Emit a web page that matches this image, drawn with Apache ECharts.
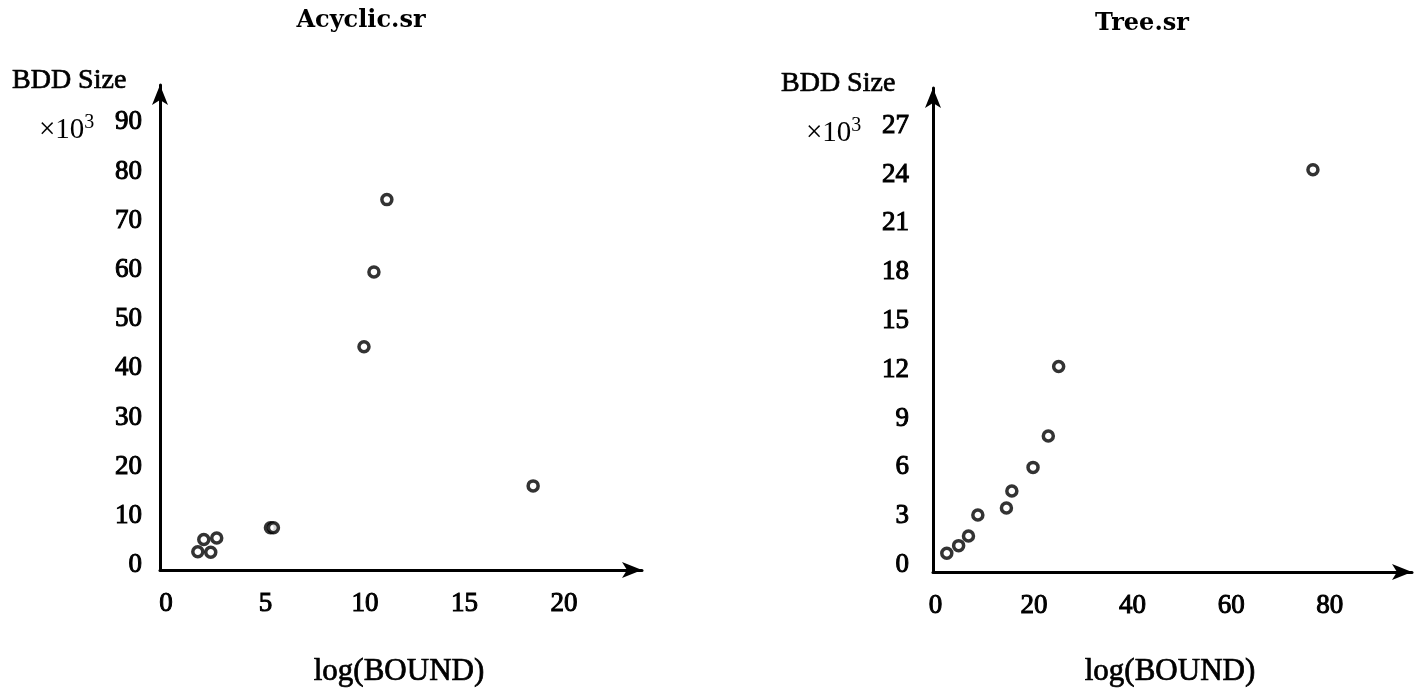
<!DOCTYPE html>
<html>
<head>
<meta charset="utf-8">
<script src="https://cdn.jsdelivr.net/npm/echarts@6/dist/echarts.min.js"></script>
<style>html,body{margin:0;padding:0;background:#fff}#c{width:1425px;height:693px}</style>
</head>
<body>
<div id="c"></div>
<script>
// Acyclic.sr data (log(BOUND), BDD size x10^3)
const acyclicX = [1.6, 1.9, 2.25, 2.55, 5.25, 5.4, 9.95, 10.45, 11.1, 18.45];
const acyclicY = [2.7, 5.2, 2.6, 5.5, 7.6, 7.6, 44.4, 59.6, 74.3, 16.1];
// Tree.sr data
const treeX = [2.3, 4.7, 6.7, 8.6, 14.4, 15.5, 19.8, 22.9, 25.0, 76.6];
const treeY = [0.72, 1.19, 1.78, 3.07, 3.5, 4.55, 6.0, 7.93, 12.2, 24.3];
// tick labels
const acyclicXTicks = [0, 5, 10, 15, 20];
const acyclicYTicks = [0, 10, 20, 30, 40, 50, 60, 70, 80, 90];
const treeXTicks = [0, 20, 40, 60, 80];
const treeYTicks = [0, 3, 6, 9, 12, 15, 18, 21, 24, 27];

const serif = '"Liberation Serif", "Times New Roman", serif';
const tickStyle = {color: '#000', fontFamily: serif, fontSize: 27, textBorderColor: '#000', textBorderWidth: 1};
const lineStyle = {color: '#000', width: 3};

function xAxis(gi, min, max, ticks) {
  return {
    type: 'value', gridIndex: gi, min: min, max: max,
    splitLine: {show: false}, axisTick: {show: false},
    axisLine: {show: true, onZero: false, lineStyle: lineStyle, symbol: ['none', 'arrow'], symbolSize: [12, 20]},
    axisLabel: Object.assign({margin: 20, customValues: ticks}, tickStyle)
  };
}
function yAxis(gi, min, max, ticks, margin) {
  return {
    type: 'value', gridIndex: gi, min: min, max: max,
    splitLine: {show: false}, axisTick: {show: false},
    axisLine: {show: true, onZero: false, lineStyle: lineStyle, symbol: ['none', 'arrow'], symbolSize: [12, 20]},
    axisLabel: Object.assign({margin: margin, customValues: ticks}, tickStyle)
  };
}
const markerStyle = {color: '#fff', borderColor: '#000', borderWidth: 3.5};
const titleFont = {fontFamily: '"DejaVu Serif", serif', fontWeight: 'bold', fontSize: 24, color: '#000'};
const labelFont = {fontFamily: serif, fontWeight: 'normal', fontSize: 28, color: '#000', textBorderColor: '#000', textBorderWidth: 0.7};
const nameFont = {fontFamily: serif, fontWeight: 'normal', fontSize: 31, color: '#000', textBorderColor: '#000', textBorderWidth: 0.7};
const expFont = {fontFamily: serif, fontWeight: 'normal', fontSize: 29, color: '#000',
  rich: {s: {fontFamily: serif, fontSize: 20, verticalAlign: 'top', color: '#000', padding: [0, 0, 14, 0]}}};

const chart = echarts.init(document.getElementById('c'), null, {renderer: 'canvas'});
chart.setOption({
  animation: false,
  backgroundColor: '#fff',
  title: [
    {text: 'Acyclic.sr', left: 356, top: 4, textAlign: 'center', textStyle: titleFont},
    {text: 'Tree.sr', left: 1137, top: 7, textAlign: 'center', textStyle: titleFont},
    {text: 'BDD Size', left: 7, top: 62, textStyle: labelFont},
    {text: 'BDD Size', left: 776, top: 65, textStyle: labelFont},
    {text: '×10{s|3}', left: 34, top: 108, textStyle: expFont},
    {text: '×10{s|3}', left: 801, top: 111, textStyle: expFont},
    {text: 'log(BOUND)', left: 394, top: 651, textAlign: 'center', textStyle: nameFont},
    {text: 'log(BOUND)', left: 1165, top: 651, textAlign: 'center', textStyle: nameFont}
  ],
  grid: [
    {left: 160, top: 85, width: 482, height: 485, containLabel: false},
    {left: 933, top: 88, width: 479, height: 484, containLabel: false}
  ],
  xAxis: [xAxis(0, -0.3, 23.92, acyclicXTicks), xAxis(1, -0.5, 96.7, treeXTicks)],
  yAxis: [yAxis(0, -1, 97.6, acyclicYTicks, 18), yAxis(1, -0.43, 29.32, treeYTicks, 24)],
  series: [
    {type: 'scatter', xAxisIndex: 0, yAxisIndex: 0, symbol: 'circle', symbolSize: 10,
     itemStyle: markerStyle, data: acyclicX.map((x, i) => [x, acyclicY[i]])},
    {type: 'scatter', xAxisIndex: 1, yAxisIndex: 1, symbol: 'circle', symbolSize: 10,
     itemStyle: markerStyle, data: treeX.map((x, i) => [x, treeY[i]])}
  ]
});
</script>
</body>
</html>
